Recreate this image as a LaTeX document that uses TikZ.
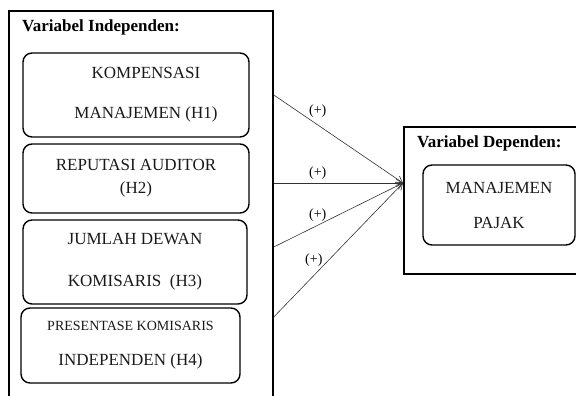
\documentclass[tikz,border=0pt]{standalone}
\usepackage{fontspec}
\setmainfont{Liberation Serif}
\usetikzlibrary{arrows.meta}

\begin{document}
\begin{tikzpicture}[
    x=1pt, y=-1pt,
    font=\fontsize{17}{23}\selectfont,
    >={Straight Barb[length=2.2mm, width=2.6mm]},
    panel/.style={draw=black, line width=1.6pt, rectangle, inner sep=0pt},
    var/.style={draw=black, line width=1.4pt, rectangle, rounded corners=9pt,
                align=center, inner sep=0pt, text=black!90},
    ttl/.style={font=\fontsize{17}{20}\selectfont\bfseries, anchor=base west,
                inner sep=0pt},
    lbl/.style={font=\fontsize{14}{16}\selectfont, inner sep=1pt},
    arr/.style={->, line width=0.6pt, draw=black!80}
  ]
    \useasboundingbox (0,0) rectangle (576,396);

    \node[panel, minimum width=264pt, minimum height=400pt] (indep) at (141,211) {};
    \node[ttl] (indepT) at (22,32) {Variabel Independen:};
    \node[var, minimum width=226pt, minimum height=84pt] (komp) at (136,95)
      {\hspace*{20pt}KOMPENSASI\\[17pt]\hspace*{20pt}MANAJEMEN (H1)};
    \node[var, minimum width=226pt, minimum height=69pt] (reput) at (136,178.5)
      {REPUTASI AUDITOR\\(H2)};
    \node[var, minimum width=224pt, minimum height=84pt] (dewan) at (135,262)
      {JUMLAH DEWAN\\[19pt]KOMISARIS~~(H3)};
    \node[var, minimum width=219pt, minimum height=75pt] (indkom) at (130.5,345.5)
      {{\fontsize{14}{17}\selectfont PRESENTASE KOMISARIS}\\[12pt]INDEPENDEN (H4)};

    \node[panel, minimum width=200pt, minimum height=147pt, anchor=north west]
      (dep) at (403,126) {};
    \node[ttl] (depT) at (417,147) {Variabel Dependen:};
    \node[var, minimum width=152pt, minimum height=80pt] (pajak) at (499,205)
      {MANAJEMEN\\[12pt]PAJAK};

    \coordinate (hub) at (dep.west |- 0,183);
    \coordinate (s1) at (indep.east |- 0,95);
    \coordinate (s2) at (indep.east |- 0,183);
    \coordinate (s3) at (indep.east |- 0,247);
    \coordinate (s4) at (indep.east |- 0,317);

    \draw[arr] (s1) -- (hub) node[lbl, pos=0.34, above=6pt] (p1) {(+)};
    \draw[arr] (s2) -- (hub) node[lbl, pos=0.34, above=2pt] (p2) {(+)};
    \draw[arr] (s3) -- (hub) node[lbl, pos=0.34, above=2pt] (p3) {(+)};
    \draw[arr] (s4) -- (hub) node[lbl, pos=0.31, above=8pt] (p4) {(+)};
\end{tikzpicture}
\end{document}
